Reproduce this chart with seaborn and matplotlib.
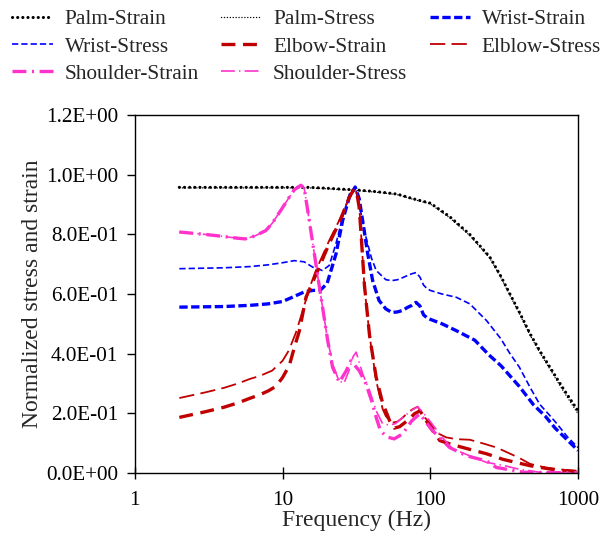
import numpy as np
import pandas as pd
import seaborn as sns
import matplotlib.pyplot as plt
from matplotlib.ticker import FixedLocator, NullLocator, FuncFormatter

# values
palm_strain_f = [2, 5, 10, 15, 20, 25, 30, 40, 50, 60, 76, 100, 135, 185, 253, 300, 346, 400, 473, 550, 646, 800, 1000]
palm_strain = [0.958, 0.958, 0.958, 0.958, 0.955, 0.952, 0.950, 0.945, 0.940, 0.935, 0.920, 0.905, 0.860, 0.800, 0.724, 0.660, 0.600, 0.540, 0.467, 0.410, 0.354, 0.280, 0.208]
palm_stress_f = palm_strain_f
palm_stress = [0.956, 0.956, 0.956, 0.956, 0.953, 0.950, 0.948, 0.943, 0.938, 0.933, 0.918, 0.902, 0.856, 0.796, 0.720, 0.655, 0.595, 0.535, 0.462, 0.404, 0.347, 0.272, 0.198]

wrist_strain_f = [2, 4, 6, 8, 10, 12, 14, 16, 18, 20, 23, 25.5, 28.3, 31, 33, 34.8, 37.7, 40.7, 45, 50, 55, 60, 65, 70, 75, 80, 85, 90, 95, 100, 120, 150, 200, 250, 300, 400, 500, 600, 700, 800, 1000]
wrist_strain = [0.556, 0.558, 0.562, 0.567, 0.575, 0.592, 0.607, 0.612, 0.613, 0.635, 0.735, 0.847, 0.925, 0.959, 0.920, 0.847, 0.735, 0.645, 0.578, 0.550, 0.538, 0.540, 0.545, 0.555, 0.562, 0.572, 0.560, 0.530, 0.520, 0.515, 0.500, 0.477, 0.445, 0.395, 0.360, 0.290, 0.228, 0.190, 0.150, 0.122, 0.075]
wrist_stress_f = [2, 4, 6, 8, 10, 12, 14, 16, 18.6, 20.7, 23, 25.5, 28.3, 31, 33, 36.7, 40, 43, 50, 55, 60, 65, 70, 75, 80, 85, 90, 95, 100, 120, 150, 185, 240, 300, 346, 400, 473, 550, 650, 718, 850, 1000]
wrist_stress = [0.685, 0.688, 0.692, 0.698, 0.705, 0.712, 0.708, 0.690, 0.679, 0.696, 0.770, 0.858, 0.935, 0.960, 0.900, 0.790, 0.720, 0.679, 0.648, 0.645, 0.648, 0.655, 0.662, 0.668, 0.672, 0.657, 0.630, 0.618, 0.612, 0.600, 0.589, 0.567, 0.511, 0.450, 0.400, 0.355, 0.287, 0.230, 0.190, 0.165, 0.120, 0.085]

elbow_strain_f = [2, 3, 4, 5, 6, 7, 8, 9, 10, 11.1, 12, 13, 14.4, 17.7, 20.7, 24.2, 28.3, 30.5, 32, 33, 34, 35.8, 38.8, 43, 47.5, 53, 57, 62, 67, 72, 78, 85, 90, 100, 116, 140, 166, 240, 311, 473, 700, 1000]
elbow_strain = [0.186, 0.205, 0.220, 0.235, 0.250, 0.262, 0.275, 0.290, 0.320, 0.360, 0.420, 0.477, 0.589, 0.690, 0.770, 0.840, 0.925, 0.952, 0.930, 0.890, 0.800, 0.630, 0.460, 0.320, 0.235, 0.175, 0.150, 0.155, 0.168, 0.180, 0.198, 0.208, 0.190, 0.152, 0.108, 0.095, 0.085, 0.064, 0.045, 0.024, 0.010, 0.004]
elbow_stress_f = [2, 3, 4, 5, 6, 7, 8.5, 10, 11, 12.3, 13.7, 15.2, 16.8, 20.7, 25.5, 29, 30.5, 32, 33, 34, 35.8, 38.8, 43, 47.5, 50, 55, 60, 65, 69, 75, 82, 90, 100, 110, 128, 150, 185, 230, 280, 311, 400, 473, 600, 800, 1000]
elbow_stress = [0.251, 0.270, 0.285, 0.300, 0.315, 0.325, 0.343, 0.376, 0.410, 0.470, 0.545, 0.620, 0.679, 0.780, 0.870, 0.937, 0.952, 0.935, 0.900, 0.800, 0.625, 0.460, 0.310, 0.215, 0.190, 0.168, 0.172, 0.185, 0.198, 0.212, 0.222, 0.190, 0.165, 0.135, 0.119, 0.113, 0.111, 0.098, 0.085, 0.075, 0.050, 0.030, 0.018, 0.010, 0.006]

shoulder_strain_f = [2, 3, 4, 5, 5.6, 6.5, 7.7, 8.5, 10, 11.1, 12, 13.3, 14, 14.8, 16.4, 18.2, 20.2, 21.8, 24.2, 27, 29, 33, 36.7, 40.7, 43, 46, 51, 57, 65, 75, 85, 95, 104, 135, 176, 240, 280, 425, 1000]
shoulder_strain = [0.808, 0.800, 0.793, 0.787, 0.785, 0.795, 0.813, 0.837, 0.890, 0.925, 0.950, 0.965, 0.955, 0.880, 0.735, 0.589, 0.444, 0.354, 0.304, 0.343, 0.376, 0.343, 0.298, 0.231, 0.186, 0.141, 0.120, 0.114, 0.131, 0.175, 0.198, 0.165, 0.141, 0.085, 0.057, 0.040, 0.018, 0.002, 0.000]
shoulder_stress_f = [2, 3, 4, 5, 5.6, 6.5, 7.7, 8.5, 10, 11.1, 12, 13.3, 14, 14.8, 16.4, 18.2, 20.2, 22, 24, 26, 28, 30, 31.5, 33, 35, 38.8, 43, 47.5, 53, 58, 65, 75, 82, 90, 100, 120, 141, 185, 240, 311, 400, 550, 1000]
shoulder_stress = [0.808, 0.800, 0.793, 0.787, 0.785, 0.795, 0.813, 0.837, 0.890, 0.925, 0.950, 0.965, 0.955, 0.880, 0.735, 0.589, 0.444, 0.360, 0.310, 0.300, 0.340, 0.390, 0.405, 0.370, 0.330, 0.276, 0.208, 0.165, 0.160, 0.165, 0.186, 0.210, 0.222, 0.200, 0.172, 0.120, 0.081, 0.057, 0.035, 0.025, 0.012, 0.002, 0.000]

labels = ['Palm-Strain', 'Palm-Stress', 'Wrist-Strain', 'Wrist-Stress',
          'Elbow-Strain', 'Elblow-Stress', 'Shoulder-Strain', 'Shoulder-Stress']
freqs = [palm_strain_f, palm_stress_f, wrist_strain_f, wrist_stress_f,
         elbow_strain_f, elbow_stress_f, shoulder_strain_f, shoulder_stress_f]
values = [palm_strain, palm_stress, wrist_strain, wrist_stress,
          elbow_strain, elbow_stress, shoulder_strain, shoulder_stress]

blue = '#0000FF'
red = '#C00000'
pink = '#FF33CC'
styles = [
    ('black', 2.2, (0, (0.1, 3.6))),
    ('black', 1.0, (0, (0.1, 2.0))),
    (blue, 2.4, (0, (6, 2.5))),
    (blue, 1.2, (0, (4.5, 2.2))),
    (red, 2.4, (0, (10, 5.5))),
    (red, 1.3, (0, (11, 4.5))),
    (pink, 2.4, (0, (10, 4, 1.5, 4))),
    (pink, 1.2, (0, (10, 3, 1, 3))),
]

sns.set_style('ticks')
plt.rcParams['font.family'] = ['Liberation Serif', 'DejaVu Serif']
plt.rcParams['lines.scale_dashes'] = False

fig = plt.figure(figsize=(6.13, 5.46), dpi=100)
ax = fig.add_axes([0.220, 0.134, 0.723, 0.655])

for lab, f, v, (c, lw, ls) in zip(labels, freqs, values, styles):
    df = pd.DataFrame({'f': f, 'v': v})
    sns.lineplot(data=df, x='f', y='v', ax=ax, color=c, linewidth=lw,
                 linestyle=ls, estimator=None, sort=False, label=lab,
                 dash_capstyle='round' if c == 'black' else 'butt')

if ax.get_legend() is not None:
    ax.get_legend().remove()

ax.set_xscale('log')
ax.set_xlim(1, 1000)
ax.set_ylim(0, 1.2)
ax.xaxis.set_major_locator(FixedLocator([1, 10, 100, 1000]))
ax.xaxis.set_minor_locator(NullLocator())
ax.xaxis.set_major_formatter(FuncFormatter(lambda x, p: '%g' % x))
ax.set_yticks(np.arange(0, 1.21, 0.2))
ax.yaxis.set_major_formatter(FuncFormatter(lambda y, p: '%.1E' % y))
ax.tick_params(axis='x', direction='inout', length=8, width=1, pad=9, labelsize=15.2, colors='black')
ax.tick_params(axis='y', direction='out', length=6, width=1, pad=6, labelsize=15.2, colors='black')
for s in ax.spines.values():
    s.set_visible(True)
    s.set_color('black')
    s.set_linewidth(1.0)

ax.set_xlabel('Frequency (Hz)', fontsize=17, labelpad=0)
ax.set_ylabel('Normalized stress and strain', fontsize=17, labelpad=2)

# legend is filled column by column, so reorder to read row by row
handles, labs = ax.get_legend_handles_labels()
order = [0, 3, 6, 1, 4, 7, 2, 5]
fig.legend([handles[i] for i in order], [labs[i] for i in order], ncol=3,
           loc='upper left', bbox_to_anchor=(-0.004, 1.01),
           frameon=False, fontsize=15.3, handlelength=1.9, handletextpad=0.55,
           columnspacing=1.05, labelspacing=0.35, borderpad=0.2)

fig.savefig('out.png', dpi=100)
